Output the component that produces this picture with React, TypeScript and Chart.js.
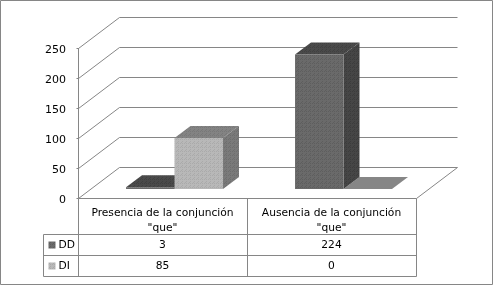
import React, { useEffect, useRef } from "react";
import { Chart, registerables } from "chart.js";

Chart.register(...registerables);

const categories = [['Presencia de la conjunción', '"que"'], ['Ausencia de la conjunción', '"que"']];
const seriesNames = ["DD", "DI"];
const ddValues = [3, 224];
const diValues = [85, 0];
const yTicks = [0, 50, 100, 150, 200, 250];

const FONT = "DejaVu Sans";
const LINE = "#868686";

function dither(a: string, b: string) {
  const c = document.createElement("canvas");
  c.width = 4;
  c.height = 4;
  const x = c.getContext("2d")!;
  x.fillStyle = a;
  x.fillRect(0, 0, 4, 4);
  x.fillStyle = b;
  x.fillRect(0, 0, 1, 1);
  x.fillRect(2, 2, 1, 1);
  x.fillRect(2, 0, 1, 1);
  x.fillRect(1, 3, 1, 1);
  return x.createPattern(c, "repeat")!;
}

export default function App() {
  const ref = useRef<HTMLCanvasElement>(null);
  useEffect(() => {
    document.body.style.margin = "0";
    const ctx0 = ref.current!.getContext("2d")!;
    const front = [dither("#6a6a6a", "#5e5e5e"), dither("#b8b8b8", "#aaaaaa")];
    const top = [dither("#4a4a4a", "#404040"), dither("#838383", "#787878")];
    const side = [dither("#464646", "#3c3c3c"), dither("#7a7a7a", "#6e6e6e")];

    const DX = 41, DY = 31;       // wall depth
    const BX = 16, BY = 12;       // bar depth
    const SX = 12, SY = 9;        // bars stand this far into the floor

    const line = (c: CanvasRenderingContext2D, pts: number[][]) => {
      c.beginPath();
      pts.forEach((p, i) => (i ? c.lineTo(p[0], p[1]) : c.moveTo(p[0], p[1])));
      c.stroke();
    };
    const poly = (c: CanvasRenderingContext2D, pts: number[][], fill: any) => {
      c.beginPath();
      pts.forEach((p, i) => (i ? c.lineTo(p[0], p[1]) : c.moveTo(p[0], p[1])));
      c.closePath();
      c.fillStyle = fill;
      c.fill();
    };

    const walls = {
      id: "walls",
      beforeDatasetsDraw(chart: any) {
        const c = chart.ctx as CanvasRenderingContext2D;
        const { left, right, top: t, bottom } = chart.chartArea;
        const L = Math.floor(left) + 0.5;
        const R = Math.floor(right) + 0.5;
        c.save();
        c.strokeStyle = LINE;
        c.lineWidth = 1;
        line(c, [[0.5, 0.5], [492.5, 0.5], [492.5, 284.5], [0.5, 284.5], [0.5, 0.5]]);
        line(c, [[L, t], [L, bottom]]);
        yTicks.forEach((v) => {
          const y = Math.floor(chart.scales.y.getPixelForValue(v)) + 0.5;
          line(c, [[L - 2, y], [L, y], [L + DX, y - DY], [R + DX, y - DY]]);
        });
        line(c, [[R, Math.floor(bottom) + 0.5], [R + DX, Math.floor(bottom) + 0.5 - DY]]);
        c.restore();

        c.save();
        c.translate(SX, -SY);
        for (let d = 1; d >= 0; d--) {
          chart.getDatasetMeta(d).data.forEach((b: any, i: number) => {
            const hw = b.width / 2;
            const x0 = b.x - hw, x1 = b.x + hw;
            const y0 = b.y, y1 = b.base;
            const val = chart.data.datasets[d].data[i];
            const flatTop = val === 0 ? (d === 1 ? "#868686" : top[d]) : top[d];
            poly(c, [[x0, y0], [x1, y0], [x1 + BX, y0 - BY], [x0 + BX, y0 - BY]], flatTop);
            poly(c, [[x1, y0], [x1 + BX, y0 - BY], [x1 + BX, y1 - BY], [x1, y1]], side[d]);
          });
        }
      },
      afterDatasetsDraw(chart: any) {
        chart.ctx.restore();
      },
      afterDraw(chart: any) {
        const c = chart.ctx as CanvasRenderingContext2D;
        const { left, right, bottom } = chart.chartArea;
        const L = Math.floor(left) + 0.5;
        const R = Math.floor(right) + 0.5;
        const M = Math.floor((left + right) / 2) + 0.5;
        const T = Math.floor(bottom) + 0.5;
        const rows = [234.5, 255.5, 276.5];
        const keyL = 43.5;
        c.save();
        c.strokeStyle = LINE;
        c.lineWidth = 1;
        line(c, [[L, T], [R, T]]);
        line(c, [[L, T], [L, rows[2]]]);
        line(c, [[M, T], [M, rows[2]]]);
        line(c, [[R, T], [R, rows[2]]]);
        line(c, [[keyL, rows[0]], [R, rows[0]]]);
        line(c, [[keyL, rows[1]], [R, rows[1]]]);
        line(c, [[keyL, rows[2]], [R, rows[2]]]);
        line(c, [[keyL, rows[0]], [keyL, rows[2]]]);
        c.font = `10.7px "${FONT}"`;
        c.fillStyle = "#000000";
        c.textBaseline = "middle";
        [ddValues, diValues].forEach((vals, r) => {
          const y = (rows[r] + rows[r + 1]) / 2 + 0.5;
          c.fillStyle = front[r];
          c.fillRect(keyL + 5, y - 4, 7, 7);
          c.fillStyle = "#000000";
          c.textAlign = "left";
          c.fillText(seriesNames[r], keyL + 15, y);
          c.textAlign = "center";
          vals.forEach((v, i) => {
            c.fillText(String(v), chart.scales.x.getPixelForValue(i), y);
          });
        });
        c.restore();
      },
    };

    const chart = new Chart(ctx0, {
      type: "bar",
      data: {
        labels: categories as any,
        datasets: [
          { label: seriesNames[0], data: ddValues, backgroundColor: front[0] as any, borderWidth: 0 },
          { label: seriesNames[1], data: diValues, backgroundColor: front[1] as any, borderWidth: 0 },
        ],
      },
      plugins: [walls],
      options: {
        responsive: false,
        animation: false,
        layout: { padding: { left: 38, right: 77, top: 48, bottom: 47 } },
        datasets: { bar: { barPercentage: 1, categoryPercentage: 0.5736, clip: false as any } },
        plugins: { legend: { display: false }, tooltip: { enabled: false }, title: { display: false } },
        scales: {
          x: {
            grid: { display: false },
            border: { display: false },
            afterFit: (s: any) => { s.height = 40; },
            ticks: {
              maxRotation: 0,
              minRotation: 0,
              autoSkip: false,
              padding: 0,
              color: "#000000",
              font: { family: FONT, size: 10.7, lineHeight: 1.4 },
            },
          },
          y: {
            min: 0,
            max: 250,
            grid: { display: false },
            border: { display: false },
            afterFit: (s: any) => { s.width = 40; },
            afterBuildTicks: (s: any) => { s.ticks = yTicks.map((value) => ({ value })); },
            ticks: {
              padding: 4,
              labelOffset: 2,
              color: "#000000",
              font: { family: FONT, size: 11 },
            },
          },
        },
      },
    });
    return () => chart.destroy();
  }, []);
  return <canvas ref={ref} width={493} height={285} style={{ display: "block", width: 493, height: 285 }} />;
}
